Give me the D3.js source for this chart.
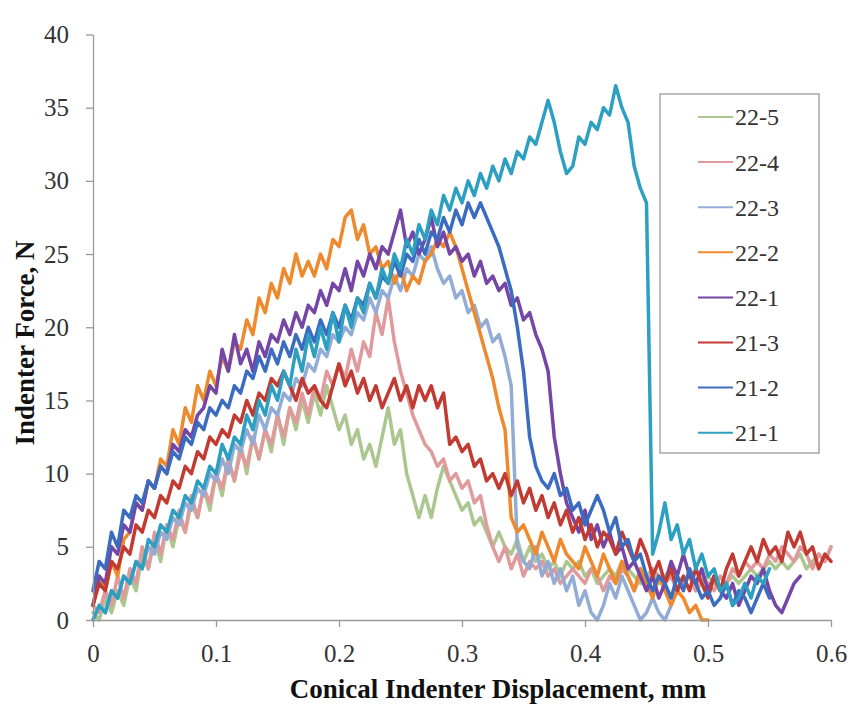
<!DOCTYPE html>
<html><head><meta charset="utf-8">
<script src="https://cdn.jsdelivr.net/npm/d3@7/dist/d3.min.js"></script>
<style>body{margin:0;background:#fff}</style>
</head><body><svg id="c" width="853" height="704"></svg>
<script>
// Displacement step between samples (mm)
const step = 0.005;
const seriesNames = ["22-5","22-4","22-3","22-2","22-1","21-3","21-2","21-1"];
const seriesColors = ["#abc78f","#e09a9c","#93acd6","#ee8a2d","#7446a6","#c23b32","#3c6cc0","#2d9fc1"];
const xTicks = [0,0.1,0.2,0.3,0.4,0.5,0.6];
const xTickLabels = ["0","0.1","0.2","0.3","0.4","0.5","0.6"];
const yTicks = [0,5,10,15,20,25,30,35,40];

// Indenter force (N), one value per displacement step
const s22_5 = [0.5,0,1.5,0.5,2,1, 3,2,4.5,3.5,5.5,4, 6.5,5,7,6,8,7, 9,7.5,10,8.5,11,9.5,
 12,10,12.5,11,13,11.5, 14,12,14.5,13,15,13.5, 15.5,14,16,14.5,13,14, 12,13,11,12,10.5,12.5,
 14.5,12,13,10,8.5,7, 8.5,7,9,10.5,9.5,8.5, 7.5,8,6.5,7,6,5, 6,5,4.5,5.5,4,5,
 4,4.5,3.5,4,3,4, 3.5,4,3,3.5,2.5,3, 3.5,3,4,3.5,3,2.5, 3,3.5,2.5,3,3.5,3,
 2.5,3,2,2.5,3,2.5, 2,2.5,3,2.5,3,3.5, 3,3.5,4,3.5,4,3.5, 4,4.5,3.5,4,4.5,4,5];
const s22_4 = [1,0.5,2,1,3,1.5, 3.5,2.5,5,3.5,6,4.5, 6.5,5.5,7.5,6,8.5,7, 9,8,10,9,11,9.5,
 11.5,10.5,12.5,11,13,12, 14,12.5,14.5,13.5,15.5,14, 16,15,17,16,17.5,16.5, 18.5,17,19,18,21,19.5,
 22,19,17,15.5,14,13, 12,11.5,10.5,11,9.5,10, 9,9.5,8,8.5,6.5,5, 4,5,3.5,4.5,3,4,
 3.5,4,3,3.5,2.5,3, 3.5,3,2.5,3.5,3,2, 3,2.5,3.5,3,2,3, 2.5,3.5,3,2.5,3,2,
 2.5,3,2,3,2.5,2, 3,2.5,3.5,3,4,3.5, 4,3.5,4.5,4,5,4.5, 4,5,4.5,3.5,4.5,4,5];
const s22_3 = [0,1,0.5,2,1.5,3, 2.5,4,3.5,5,4.5,6, 5.5,7,6.5,8,7.5,9, 8.5,10,9.5,11,10,12,
 11.5,13,12,14,13,14.5, 14,15.5,15,16.5,16,17.5, 17,18.5,18,19.5,19,20, 19.5,21,20.5,22,21,22.5,
 22,23.5,22.5,24,23.5,25, 24.5,25.5,24,23,23.5,22, 22.5,21,21.5,20,20.5,19, 19.5,18,16,5,4,3.5,
 5,3,4,2.5,3.5,2, 3,1,2,0.5,0,1, 2.5,1.5,3,2,1,0, 0.5,1.5,0.5,0,1];
const s22_2 = [1,3,2,4,3,5.5, 6,8,7.5,9.5,9,11, 10.5,13,12,14.5,13.5,16, 15,17,16,18,17,19,
 18.5,20.5,19.5,22,21,23, 22,24,23,25,23.5,24.5, 23.5,25,24,26,25.5,27.5, 28,26,27,25,25.5,24,
 24.5,23,24,22.5,23.5,23, 24.5,25,26,25.5,26.5,25.5, 24,22.5,21,19.5,18,16.5, 14.5,13,7,6,6.5,5.5,
 4.5,6,5,4,5.5,4.5, 4,3.5,5,4,3,4.5, 3.5,2.5,4,3,2,3.5, 2.5,1.5,3,2,1,2, 1.5,0.5,1,0,0];
const s22_1 = [1,3,2.5,5,4.5,6.5, 6,8,7.5,9.5,9,10.5, 10,12,11.5,13,12.5,14, 14.5,16,15.5,18.5,17,19.5,
 17.5,18.5,17,19,18,19.5, 19,20.5,19.5,21,20,21.5, 21,22.5,21.5,23,22.5,24, 22.5,24.5,23.5,25,24,25.5,
 25,26.5,28,25.5,26.5,25, 26,27.5,25.5,26.5,25,25.5, 24.5,25,23.5,24.5,23,23.5, 22.5,23,21.5,22,20.5,21,
 19.5,18.5,17,12.5,10,8, 7,6,7.5,5.5,6.5,5, 6,4.5,5,3.5,4,3, 2,3,1.5,2.5,4,3,
 4.5,3,2.5,3.5,2,3, 2,1.5,2.5,1,2,3, 2.5,3.5,2,1,0.5,1.5,2.5,3];
const s21_3 = [1,2.5,2,4,3.5,5, 4.5,6.5,6,7.5,7,8.5, 8,9.5,9,10.5,10,11.5, 11,12.5,12,13,12.5,14,
 13.5,15,14,15.5,15,16.5, 16,17,16,15,16.5,15.5, 16,15,14.5,16,17.5,16, 17,15.5,16.5,15,16,14.5,
 15.5,16.5,15,16,14.5,16, 15,16,14.5,15.5,12,12.5, 11.5,12,10.5,11,9.5,10, 9,10,8.5,9.5,8,9,
 7.5,8.5,7,8,6.5,7.5, 6,7,5.5,6.5,5,6, 5.5,4.5,6,5,4,5.5, 4.5,3,4,2.5,3.5,2,
 3,2,3.5,2.5,1.5,3, 2,3.5,4.5,3,4,5, 4,5.5,4.5,5,4,6, 5,6,4.5,5,3.5,4.5,4];
const s21_2 = [2,4,3.5,6,5,7.5, 7,8.5,8,9.5,9,10.5, 10,11.5,11,12.5,12,13.5, 13,14.5,14,15,14.5,16,
 15.5,17,16.5,18,17,18.5, 17.5,19,18,19.5,18.5,20, 19,20.5,19.5,21,20,21.5, 20.5,22,21.5,23,22,23.5,
 23,24.5,23.5,25,24.5,26, 25,26.5,26,27.5,26.5,28, 27,28.5,27.5,28.5,27.5,26.5, 25.5,24,22.5,20,17,12.5,
 10.5,9.5,9,10,8.5,9, 7.5,8,6.5,7.5,8.5,7.5, 6,7,5,5.5,4,4.5, 3,2,3,2.5,1.5,3,
 2,3.5,2.5,1.5,2,1, 1.5,2.5,1,2,1.5,0.5, 1.5,2.5,1.5];
const s21_1 = [0,1,0.5,2,1.5,3, 2.5,4,3.5,5.5,5,6.5, 6,7.5,7,8.5,8,9.5, 9,10.5,10,12,11,12.5,
 12,14,13,15,14,16, 15,17,16,18.5,17,19.5, 18,20,18.5,21,19,21.5, 20,22,21,23,22,24,
 23,25,24,26,25,27, 26,28,27,29,28,29.5, 28.5,30,29,30.5,29.5,31, 30,31.5,30.5,32,31.5,33,
 32.5,34,35.5,34,32,30.5, 31,33,32.5,34,33.5,35, 34.5,36.5,35,34,31,29.5, 28.5,4.5,6,8,5.5,6.5,
 4.5,5.5,3.5,4.5,3,3.5, 2,2.5,1,1.5,2.5,1.5, 3,2.5,3.5];
const seriesValues = [s22_5,s22_4,s22_3,s22_2,s22_1,s21_3,s21_2,s21_1];

const svg = d3.select("#c");
const font = "'Liberation Serif','Times New Roman',serif";
const x = d3.scaleLinear().domain([0,0.6]).range([93,831]);
const y = d3.scaleLinear().domain([0,40]).range([620,34.5]);

const line = d3.line().x((d,i)=>x(i*step)).y(d=>y(d));
svg.append("g").selectAll("path").data(seriesValues).join("path")
  .attr("d", line).attr("fill","none")
  .attr("stroke",(d,i)=>seriesColors[i]).attr("stroke-width",3.5)
  .attr("stroke-linejoin","round").attr("stroke-linecap","round");

const gx = svg.append("g").attr("transform","translate(0,620)")
  .call(d3.axisBottom(x).tickValues(xTicks).tickFormat((d,i)=>xTickLabels[i]).tickSize(7).tickSizeOuter(0).tickPadding(17));
const gy = svg.append("g").attr("transform","translate(93,0)")
  .call(d3.axisLeft(y).tickValues(yTicks).tickSize(7).tickSizeOuter(0).tickPadding(17));
[gx,gy].forEach(g=>{
  g.select(".domain").attr("stroke","#9a9a9a").attr("stroke-width",1.3);
  g.selectAll(".tick line").attr("stroke","#9a9a9a").attr("stroke-width",1.3);
  g.selectAll("text").attr("font-family",font).attr("font-size",25).attr("fill","#333");
});

svg.append("text").attr("x",498).attr("y",698).attr("text-anchor","middle")
  .attr("font-family",font).attr("font-weight","bold").attr("font-size",27).attr("fill","#111")
  .text("Conical Indenter Displacement, mm");
svg.append("text").attr("transform","translate(25,343) rotate(-90)").attr("dy","0.35em")
  .attr("text-anchor","middle").attr("font-family",font).attr("font-weight","bold")
  .attr("font-size",27).attr("fill","#111").text("Indenter Force, N");

const lg = svg.append("g");
lg.append("rect").attr("x",660).attr("y",94).attr("width",159).attr("height",359)
  .attr("fill","#fff").attr("stroke","#9a9a9a").attr("stroke-width",1.3);
const items = lg.selectAll("g.item").data(seriesNames).join("g").attr("class","item")
  .attr("transform",(d,i)=>`translate(0,${117+i*45.1})`);
items.append("line").attr("x1",698).attr("x2",733).attr("y1",0).attr("y2",0)
  .attr("stroke",(d,i)=>seriesColors[i]).attr("stroke-width",2);
items.append("text").attr("x",735).attr("dy","0.35em").attr("font-family",font)
  .attr("font-size",24).attr("fill","#333").text(d=>d);
</script>
</body></html>
